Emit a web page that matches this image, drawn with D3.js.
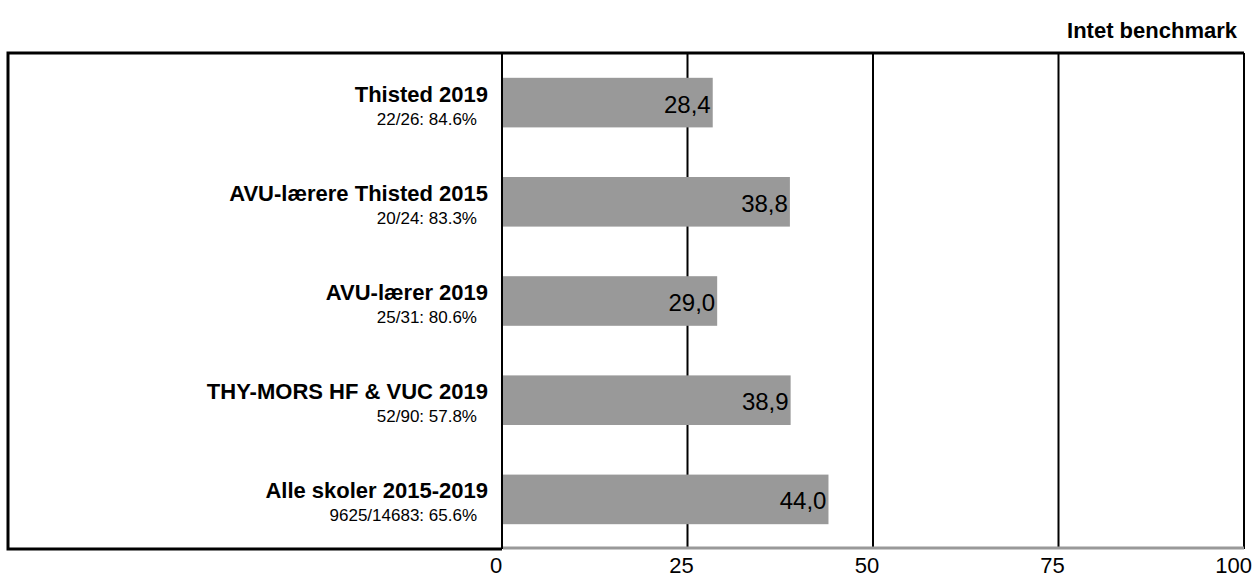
<!DOCTYPE html>
<html>
<head>
<meta charset="utf-8">
<script src="https://cdn.jsdelivr.net/npm/d3@7"></script>
<style>
  body { margin: 0; background: #fff; }
  svg { display: block; font-family: "Liberation Sans", Arial, sans-serif; }
</style>
</head>
<body>
<div id="chart"></div>
<script>
const categories = [
  'Thisted 2019',
  'AVU-lærere Thisted 2015',
  'AVU-lærer 2019',
  'THY-MORS HF & VUC 2019',
  'Alle skoler 2015-2019',
];
const subLabels = [
  '22/26: 84.6%',
  '20/24: 83.3%',
  '25/31: 80.6%',
  '52/90: 57.8%',
  '9625/14683: 65.6%',
];
const values = [28.4, 38.8, 29.0, 38.9, 44.0];
const tickValues = [0, 25, 50, 75, 100];
const title = 'Intet benchmark';

const width = 1255;
const height = 579;
const frame = { left: 8, top: 53, right: 1244, bottom: 549 };
const plotLeft = 502;

const svg = d3.select('#chart')
  .append('svg')
  .attr('width', width)
  .attr('height', height);

const x = d3.scaleLinear().domain([0, 100]).range([plotLeft, frame.right]);
const y = d3.scaleBand()
  .domain(categories)
  .range([frame.top, frame.bottom])
  .paddingInner(0.5)
  .paddingOuter(0.25);

const fmt = (v) => v.toFixed(1).replace('.', ',');

// title
svg.append('text')
  .attr('x', 1237)
  .attr('y', 38)
  .attr('text-anchor', 'end')
  .style('font-size', '22px')
  .style('font-weight', 'bold')
  .text(title);

// vertical grid lines, drawn under the bars
svg.append('g')
  .selectAll('line')
  .data(tickValues.filter((d) => d > 0))
  .enter()
  .append('line')
  .attr('x1', (d) => x(d))
  .attr('x2', (d) => x(d))
  .attr('y1', frame.top)
  .attr('y2', frame.bottom)
  .style('stroke', '#000')
  .style('stroke-width', 2);

// bars
svg.append('g')
  .selectAll('rect')
  .data(values)
  .enter()
  .append('rect')
  .attr('x', x(0))
  .attr('y', (d, i) => y(categories[i]))
  .attr('width', (d) => x(d) - x(0))
  .attr('height', y.bandwidth())
  .style('fill', '#999999');

// zero line on top of bars
svg.append('line')
  .attr('x1', x(0))
  .attr('x2', x(0))
  .attr('y1', frame.top)
  .attr('y2', frame.bottom)
  .style('stroke', '#000')
  .style('stroke-width', 2);

// frame: top, left, bottom-left in black; bottom axis in grey
svg.append('path')
  .attr('d', `M${frame.right},${frame.top}H${frame.left}V${frame.bottom}H${plotLeft}`)
  .style('fill', 'none')
  .style('stroke', '#000')
  .style('stroke-width', 3);
svg.append('line')
  .attr('x1', plotLeft + 1)
  .attr('x2', frame.right)
  .attr('y1', frame.bottom - 1)
  .attr('y2', frame.bottom - 1)
  .style('stroke', '#999999')
  .style('stroke-width', 3);

// value labels
svg.append('g')
  .selectAll('text')
  .data(values)
  .enter()
  .append('text')
  .attr('x', (d) => x(d) - 2)
  .attr('y', (d, i) => y(categories[i]) + y.bandwidth() / 2 + 10)
  .attr('text-anchor', 'end')
  .style('font-size', '24px')
  .text((d) => fmt(d));

// category labels
const labels = svg.append('g')
  .selectAll('g')
  .data(categories)
  .enter()
  .append('g')
  .attr('transform', (d) => `translate(0,${y(d) + y.bandwidth() / 2})`);
labels.append('text')
  .attr('x', 488)
  .attr('y', -1)
  .attr('text-anchor', 'end')
  .style('font-size', '22px')
  .style('font-weight', 'bold')
  .text((d) => d);
labels.append('text')
  .attr('x', 477)
  .attr('y', 22)
  .attr('text-anchor', 'end')
  .style('font-size', '17px')
  .text((d, i) => subLabels[i]);

// axis tick labels
svg.append('g')
  .selectAll('text')
  .data(tickValues)
  .enter()
  .append('text')
  .attr('y', 573)
  .attr('text-anchor', 'middle')
  .style('font-size', '22px')
  .text((d) => d)
  .attr('x', function (d) {
    const half = this.getComputedTextLength() / 2;
    return Math.min(x(d) - 6, width - 3 - half);
  });
</script>
</body>
</html>
